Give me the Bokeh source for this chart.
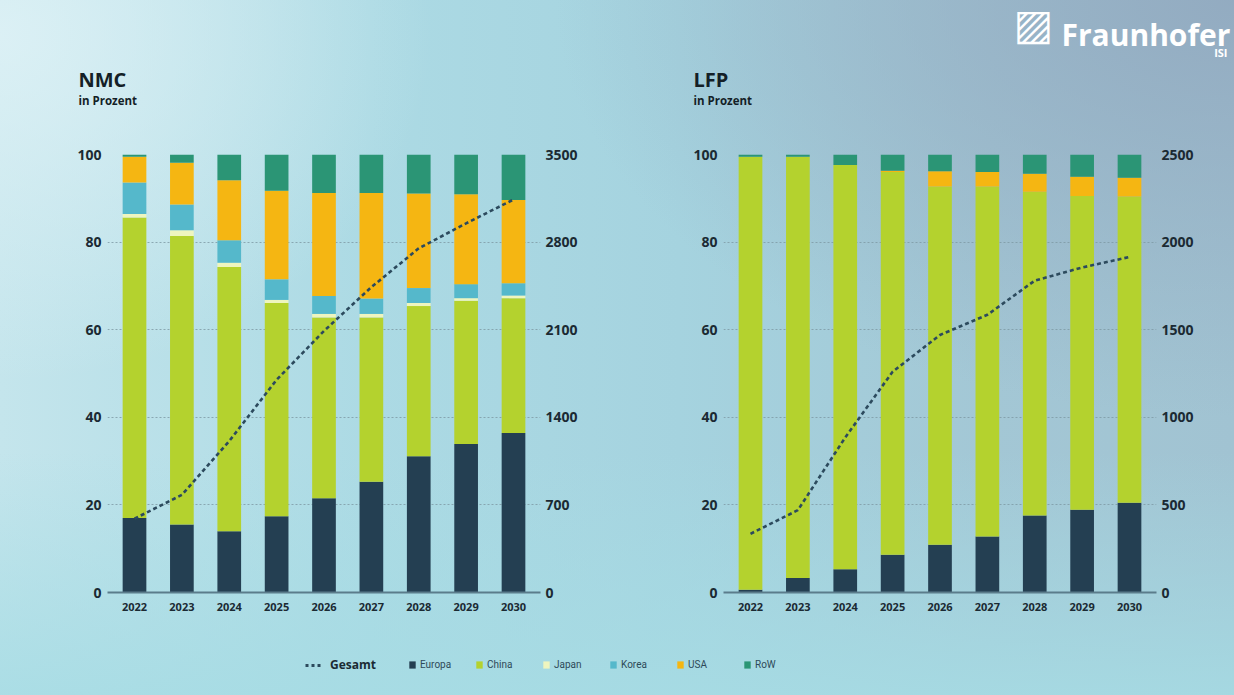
from bokeh.plotting import figure
from bokeh.models import (ColumnDataSource, FactorRange, Range1d, LinearAxis,
                          FixedTicker, Label, Legend, LegendItem)
from bokeh.layouts import column, row
from bokeh.embed import file_html
from bokeh.resources import INLINE

# ---------------- data ----------------
years = ["2022", "2023", "2024", "2025", "2026", "2027", "2028", "2029", "2030"]
series = ["Europa", "China", "Japan", "Korea", "USA", "RoW"]

nmc_europa = [17.0, 15.5, 14.0, 17.4, 21.5, 25.3, 31.1, 33.9, 36.4]
nmc_china = [68.6, 65.9, 60.3, 48.7, 41.3, 37.5, 34.3, 32.7, 30.8]
nmc_japan = [0.8, 1.3, 1.0, 0.7, 0.8, 0.8, 0.7, 0.6, 0.6]
nmc_korea = [7.2, 5.9, 5.1, 4.7, 4.1, 3.5, 3.4, 3.2, 2.8]
nmc_usa = [5.9, 9.5, 13.7, 20.2, 23.5, 24.1, 21.6, 20.5, 19.0]
nmc_row = [0.5, 1.9, 5.9, 8.3, 8.8, 8.8, 8.9, 9.1, 10.4]
nmc_total = [590, 780, 1210, 1700, 2090, 2440, 2750, 2950, 3140]

lfp_europa = [0.6, 3.3, 5.3, 8.6, 10.9, 12.8, 17.6, 18.9, 20.5]
lfp_china = [98.9, 96.2, 92.3, 87.4, 81.8, 79.9, 73.9, 71.6, 69.9]
lfp_japan = [0, 0, 0, 0, 0, 0, 0, 0, 0]
lfp_korea = [0, 0, 0, 0, 0, 0, 0, 0, 0]
lfp_usa = [0, 0, 0, 0.3, 3.5, 3.3, 4.1, 4.4, 4.3]
lfp_row = [0.5, 0.5, 2.4, 3.7, 3.8, 4.0, 4.4, 5.1, 5.3]
lfp_total = [335, 470, 885, 1260, 1470, 1585, 1780, 1855, 1915]

left_ticks = [0, 20, 40, 60, 80, 100]
nmc_right_ticks = [0, 700, 1400, 2100, 2800, 3500]
lfp_right_ticks = [0, 500, 1000, 1500, 2000, 2500]

colors = ["#243f52", "#b4d22e", "#eef5bf", "#55b8cb", "#f5b612", "#2b9575"]

FONT = "Open Sans"
TXT = "#1b2a33"
LINE_COLOR = "#2c4a5d"


def make_source(vals, totals):
    data = dict(year=years, total=totals)
    for s, v in zip(series, vals):
        data[s] = v
    return ColumnDataSource(data)


def style_value_axis(ax, ticks, standoff):
    ax.ticker = FixedTicker(ticks=ticks)
    ax.axis_line_color = None
    ax.major_tick_line_color = None
    ax.minor_tick_line_color = None
    ax.major_tick_out = 0
    ax.major_tick_in = 0
    ax.minor_tick_out = 0
    ax.minor_tick_in = 0
    ax.major_label_text_font = FONT
    ax.major_label_text_font_style = "bold"
    ax.major_label_text_font_size = "14px"
    ax.major_label_text_color = TXT
    ax.major_label_standoff = standoff


def make_chart(src, right_ticks, border_left, border_right):
    p = figure(width=617, height=500,
               x_range=FactorRange(*years, range_padding=0.07,
                                   range_padding_units="absolute"),
               y_range=Range1d(0, 100),
               output_backend="svg", toolbar_location=None,
               min_border_left=border_left, min_border_right=border_right,
               min_border_top=14, min_border_bottom=48,
               background_fill_alpha=0, border_fill_alpha=0,
               outline_line_color=None)
    p.extra_y_ranges = {"tot": Range1d(0, right_ticks[-1])}

    p.vbar_stack(series, x="year", width=0.5, fill_color=colors,
                 line_color=None, source=src)
    p.line(x="year", y="total", source=src, y_range_name="tot",
           line_color=LINE_COLOR, line_width=2.6, line_dash="4 3")

    xa = p.xaxis[0]
    xa.axis_line_color = "#5b7c8b"
    xa.axis_line_width = 2
    xa.major_tick_line_color = None
    xa.minor_tick_line_color = None
    xa.major_tick_out = 0
    xa.major_tick_in = 0
    xa.major_label_text_font = FONT
    xa.major_label_text_font_style = "bold"
    xa.major_label_text_font_size = "11px"
    xa.major_label_text_color = TXT
    xa.major_label_standoff = 10

    style_value_axis(p.yaxis[0], left_ticks, 6)
    ra = LinearAxis(y_range_name="tot")
    style_value_axis(ra, right_ticks, 5)
    p.add_layout(ra, "right")

    p.xgrid.visible = False
    p.ygrid.grid_line_color = "#7d98a4"
    p.ygrid.grid_line_dash = "2 2"
    p.ygrid.grid_line_alpha = 0.8
    p.ygrid.ticker = FixedTicker(ticks=left_ticks)
    return p


nmc_src = make_source([nmc_europa, nmc_china, nmc_japan, nmc_korea, nmc_usa, nmc_row], nmc_total)
lfp_src = make_source([lfp_europa, lfp_china, lfp_japan, lfp_korea, lfp_usa, lfp_row], lfp_total)

p1 = make_chart(nmc_src, nmc_right_ticks, 107, 77)
p2 = make_chart(lfp_src, lfp_right_ticks, 106, 78)

# ---------------- header strip (titles + logo) ----------------
p0 = figure(width=1234, height=140, x_range=Range1d(0, 1234), y_range=Range1d(140, 0),
            output_backend="svg", toolbar_location=None,
            x_axis_location=None, y_axis_location=None, min_border=0,
            background_fill_alpha=0, border_fill_alpha=0, outline_line_color=None)
p0.grid.visible = False


def header_label(x, y, text, size, color="#141f27", align="left", font=FONT, style="bold"):
    p0.add_layout(Label(x=x, y=y, text=text, text_font=font, text_font_style=style,
                        text_font_size=size, text_color=color,
                        text_baseline="alphabetic", text_align=align))


header_label(78, 79, "NMC", "20px")
header_label(78, 100, "in Prozent", "11.5px")
header_label(693, 79, "LFP", "20px")
header_label(693, 100, "in Prozent", "11.5px")
header_label(1061, 34, "Fraunhofer", "30px", color="white")
header_label(1227, 52, "ISI", "11px", color="white", align="right")
header_label(1013, 24, "\u25A8", "42px", color="white", font="DejaVu Sans", style="normal")

# ---------------- legend strip ----------------
p3 = figure(width=1234, height=55,
            x_range=FactorRange(*years), y_range=Range1d(0, 100),
            output_backend="svg", toolbar_location=None,
            x_axis_location=None, y_axis_location=None, min_border=0,
            background_fill_alpha=0, border_fill_alpha=0, outline_line_color=None)
p3.grid.visible = False

r_bars = p3.vbar_stack(series, x="year", width=0.5, fill_color=colors,
                       line_color=None, source=nmc_src, visible=False)
r_line = p3.line(x="year", y="total", source=nmc_src, line_color=LINE_COLOR,
                 line_width=3, line_dash="3 3", visible=False)

leg1 = Legend(items=[LegendItem(label="Gesamt", renderers=[r_line])],
              location=(305, 22), orientation="horizontal", padding=0, margin=0,
              glyph_width=16, glyph_height=16, label_standoff=9, label_height=16,
              label_text_font=FONT, label_text_font_style="bold",
              label_text_font_size="12px", label_text_color=TXT,
              background_fill_alpha=0, border_line_alpha=0)
leg2 = Legend(items=[LegendItem(label=s, renderers=[r]) for s, r in zip(series, r_bars)],
              location=(408, 25), orientation="horizontal", padding=0, margin=0,
              glyph_width=8, glyph_height=9, label_standoff=4, label_width=50,
              label_height=9, spacing=5,
              label_text_font="Roboto",
              label_text_font_size="10px", label_text_color="#2e4a58",
              background_fill_alpha=0, border_line_alpha=0)
p3.add_layout(leg1)
p3.add_layout(leg2)

bg = ("radial-gradient(ellipse 35% 50% at 0% 5%, rgba(225,243,247,0.8) 0%, rgba(225,243,247,0) 100%), "
      "radial-gradient(ellipse 55% 60% at 100% 0%, rgba(146,170,192,0.95) 0%, rgba(146,170,192,0) 100%), "
      "linear-gradient(to top, rgba(166,220,228,0.85) 0%, rgba(166,220,228,0) 35%), "
      "linear-gradient(to right, #c4e5ec 0%, #acdae4 30%, #a5d3df 55%, #a3c7d5 80%, #a1c3d2 100%)")

layout = column(p0, row(p1, p2), p3, styles={"background": bg})

open("out.html", "w").write(file_html(layout, INLINE))
